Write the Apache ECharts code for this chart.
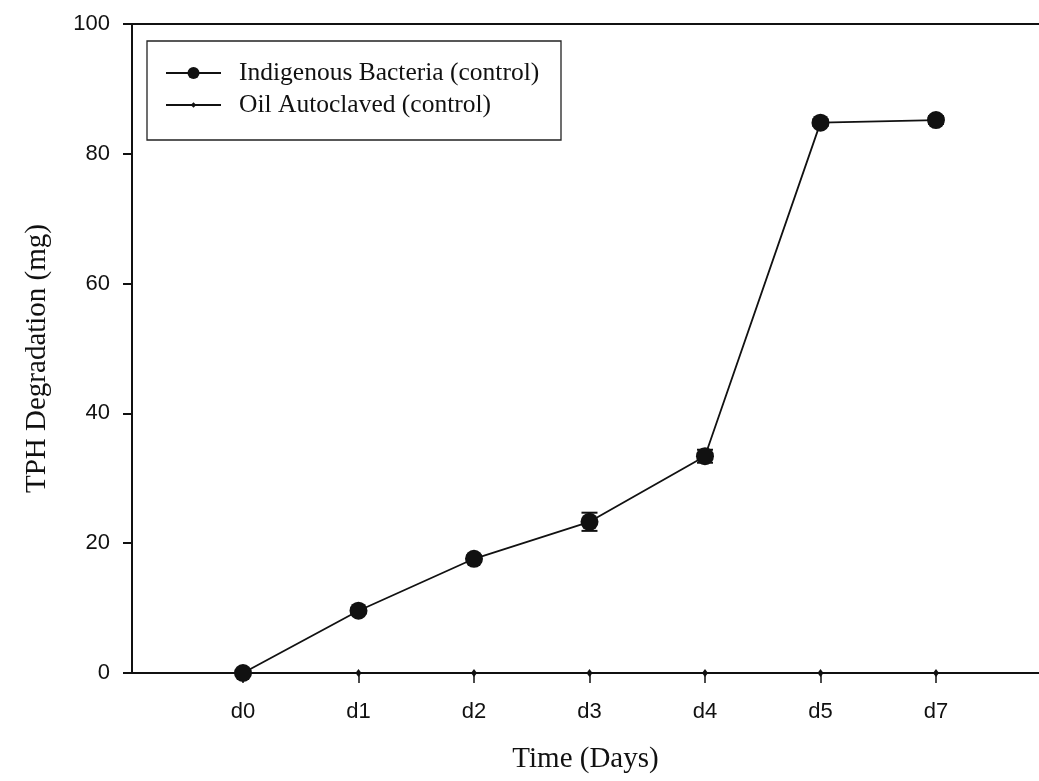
<!DOCTYPE html>
<html>
<head>
<meta charset="utf-8">
<script src="https://cdn.jsdelivr.net/npm/echarts@6/dist/echarts.min.js"></script>
<style>html,body{margin:0;padding:0;background:#fff}#c{width:1039px;height:781px}</style>
</head>
<body>
<div id="c"></div>
<script>
var categories = ['d0', 'd1', 'd2', 'd3', 'd4', 'd5', 'd7'];
var bacteria = [0, 9.6, 17.6, 23.3, 33.4, 84.8, 85.2];
var bacteriaErr = [0.3, 0.4, 0.5, 1.4, 1.0, 0.5, 0.6];
var autoclaved = [0, 0, 0, 0, 0, 0, 0];
var yTicks = [0, 20, 40, 60, 80, 100];
var nameA = 'Indigenous Bacteria (control)';
var nameB = 'Oil Autoclaved (control)';

var idx = categories.map(function (c, i) { return i; });
var chart = echarts.init(document.getElementById('c'));
var sans = 'Liberation Sans';
var serif = 'Liberation Serif';

var option = {
  animation: false,
  backgroundColor: '#fff',
  grid: { left: 132, right: 0, top: 24, bottom: 108, containLabel: false },
  xAxis: [{
    type: 'value', min: -0.961, max: 6.892,
    name: 'Time (Days)', nameLocation: 'middle', nameGap: 72,
    nameTextStyle: { fontFamily: serif, fontSize: 29, color: '#111' },
    axisLine: { show: true, onZero: false, lineStyle: { color: '#111', width: 2 } },
    axisTick: { show: true, length: 10, customValues: idx, lineStyle: { color: '#111', width: 1.5 } },
    axisLabel: { customValues: idx, margin: 28, fontFamily: sans, fontSize: 22, color: '#111',
      formatter: function (v) { return categories[Math.round(v)] || ''; } },
    splitLine: { show: false }
  }, {
    type: 'value', min: -0.961, max: 6.892, position: 'top',
    axisLine: { show: true, onZero: false, lineStyle: { color: '#111', width: 2 } },
    axisTick: { show: false }, axisLabel: { show: false }, splitLine: { show: false }
  }],
  yAxis: {
    type: 'value', min: 0, max: 100, interval: 20,
    name: 'TPH Degradation (mg)', nameLocation: 'middle', nameGap: 80,
    nameTextStyle: { fontFamily: serif, fontSize: 29, color: '#111', padding: [0, 20, 0, 0] },
    axisLine: { show: true, onZero: false, lineStyle: { color: '#111', width: 2 } },
    axisTick: { show: true, length: 9, lineStyle: { color: '#111', width: 2 } },
    axisLabel: { margin: 22, fontFamily: sans, fontSize: 22, color: '#111',
      formatter: function (v) { return yTicks.indexOf(v) >= 0 ? String(v) : ''; } },
    splitLine: { show: false }
  },
  legend: [{
    data: [nameA], left: 165, top: 60, padding: 0, itemWidth: 55, itemHeight: 15,
    textStyle: { fontFamily: serif, fontSize: 25.5, color: '#111', padding: [0, 0, 0, 13] }
  }, {
    data: [nameB], left: 165, top: 92, padding: 0, itemWidth: 55, itemHeight: 7,
    textStyle: { fontFamily: serif, fontSize: 25.5, color: '#111', padding: [0, 0, 0, 13] }
  }],
  graphic: [{
    type: 'rect', shape: { x: 147, y: 41, width: 414, height: 99 },
    style: { fill: 'none', stroke: '#222', lineWidth: 1.3 }, z: 10
  }],
  series: [{
    name: nameB, type: 'line',
    data: autoclaved.map(function (v, i) { return [i, v]; }),
    symbol: 'diamond', symbolSize: [6, 8],
    lineStyle: { color: '#111', width: 1.5 }, itemStyle: { color: '#111' }, z: 3
  }, {
    name: nameA + ' err', type: 'custom',
    data: bacteria.map(function (v, i) { return [i, v - bacteriaErr[i], v + bacteriaErr[i]]; }),
    renderItem: function (params, api) {
      var x = api.value(0);
      var lo = api.coord([x, api.value(1)]);
      var hi = api.coord([x, api.value(2)]);
      var w = 8;
      var st = { stroke: '#111', lineWidth: 2 };
      return { type: 'group', children: [
        { type: 'line', shape: { x1: lo[0], y1: lo[1], x2: hi[0], y2: hi[1] }, style: st },
        { type: 'line', shape: { x1: lo[0] - w, y1: lo[1], x2: lo[0] + w, y2: lo[1] }, style: st },
        { type: 'line', shape: { x1: hi[0] - w, y1: hi[1], x2: hi[0] + w, y2: hi[1] }, style: st }
      ] };
    },
    z: 4
  }, {
    name: nameA, type: 'line',
    data: bacteria.map(function (v, i) { return [i, v]; }),
    symbol: 'circle', symbolSize: 18,
    lineStyle: { color: '#111', width: 1.8 }, itemStyle: { color: '#111' }, z: 5
  }]
};
chart.setOption(option);
</script>
</body>
</html>
